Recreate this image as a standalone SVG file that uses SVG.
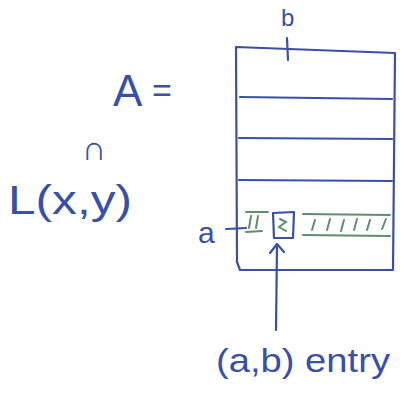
<svg xmlns="http://www.w3.org/2000/svg" width="405" height="396" viewBox="0 0 405 396">
<style>
.ink{fill:none;stroke:#3a4fa6;stroke-width:2.2;stroke-linecap:round;stroke-linejoin:round}
.g{fill:none;stroke:#5f8f6a;stroke-width:2;stroke-linecap:round}
.t{font-family:"Liberation Sans",Arial,sans-serif;fill:#3a4fa6}
</style>
<rect width="405" height="396" fill="#fff"/>
<g id="label-A"><text class="t" x="113" y="106" font-size="44">A</text><text class="t" x="152" y="102" font-size="34">=</text></g>
<g id="label-sym"><text class="t" x="82" y="160" font-size="34">∩</text></g>
<g id="label-L"><text class="t" x="8" y="214" font-size="40" textLength="124" lengthAdjust="spacingAndGlyphs">L(x,y)</text></g>
<g id="matrix">
<path class="ink" d="M236,47 L395,53 L393,270 L240,270 L237,262 Z"/>
<path class="ink" d="M240,97 L392,99"/>
<path class="ink" d="M239,138 L392,139"/>
<path class="ink" d="M239,180 L392,181"/>
<path class="ink" d="M287,38 L288,60"/>
<path class="ink" d="M226,229 L246,228"/>
</g>
<g id="row-a">
<path class="g" d="M246,212 L268,212 M246,232 L262,231 M251,216 L249,228 M258,216 L256,228 M303,214 L390,215 M303,235 L390,236 M315,220 L312,230 M330,219 L327,230 M344,220 L341,231 M357,219 L354,230 M370,220 L367,230 M386,219 L382,229"/>
</g>
<g id="cell"><path class="ink" d="M273,213 L294,212 L293,238 L274,238 Z"/><path class="g" d="M280,219 L286,222 L279,227 L286,231" stroke-width="1.8"/></g>
<g id="label-b"><text class="t" x="281" y="26" font-size="24">b</text></g>
<g id="label-a"><text class="t" x="198" y="243" font-size="30">a</text></g>
<g id="connectors"><path class="ink" d="M276,330 L277,245"/><path class="ink" d="M270,253 L277,244 L284,252"/></g>
<g id="label-entry"><text class="t" x="216" y="372" font-size="34" textLength="174" lengthAdjust="spacingAndGlyphs">(a,b) entry</text></g>
</svg>
